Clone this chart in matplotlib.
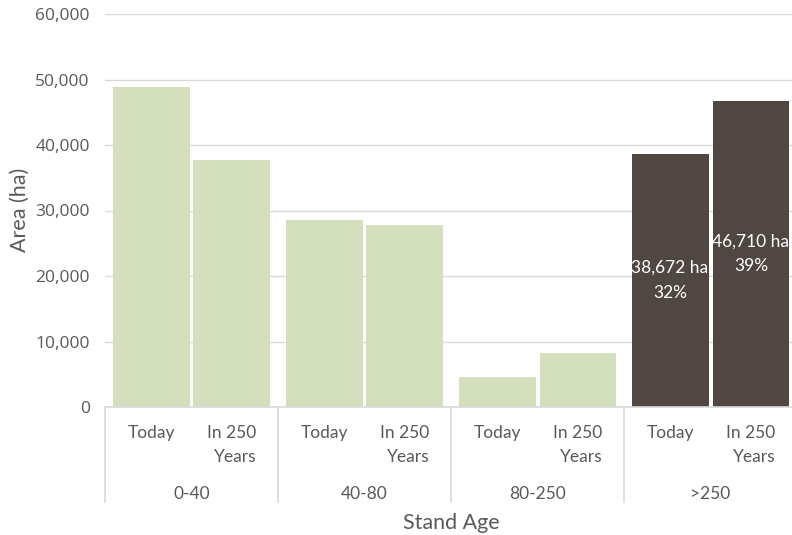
import matplotlib
matplotlib.use("Agg")
import matplotlib.pyplot as plt
import matplotlib.transforms as mtransforms
import numpy as np

# Stand age classes and the two time points
age_classes = ["0-40", "40-80", "80-250", ">250"]
periods = ["Today", "In 250\nYears"]

# Area in hectares per age class
area_today = [48900, 28550, 4650, 38672]
area_future = [37700, 27800, 8250, 46710]

# Share of total area for the old-growth class (>250)
old_growth_share = [32, 39]

green = "#d3dfbd"
dark = "#504742"
grid_gray = "#d9d9d9"
text_gray = "#595959"

fig = plt.figure(figsize=(7.92, 5.35), dpi=100)
ax = fig.add_axes([105 / 792, 128 / 535, 687 / 792, 393 / 535])

n = len(age_classes)
centers = np.arange(n)
offset = 0.234
width = 0.445

colors = [green] * (n - 1) + [dark]
bars_today = ax.bar(centers - offset, area_today, width=width, color=colors, zorder=3)
bars_future = ax.bar(centers + offset, area_future, width=width, color=colors, zorder=3)

ax.set_xlim(-0.5, 3.471)
ax.set_ylim(0, 60000)
ax.set_yticks(np.arange(0, 60001, 10000))
ax.yaxis.set_major_formatter(matplotlib.ticker.FuncFormatter(lambda v, p: f"{int(v):,}"))
ax.tick_params(axis="y", length=0, pad=11, labelsize=12.5, labelcolor=text_gray)
for lab in ax.get_yticklabels():
    lab.set_fontfamily("Open Sans")
ax.set_xticks([])
ax.grid(axis="y", color=grid_gray, linewidth=1, zorder=0)
for s in ax.spines.values():
    s.set_visible(False)
ax.axhline(0, color=grid_gray, linewidth=1.2, zorder=4, clip_on=False)

fig.text(20 / 792, 1 - 210 / 535, "Area (ha)", rotation=90, ha="center", va="center",
         fontsize=15.5, color=text_gray, family="Lato")

# Value labels on the old-growth bars
last = n - 1
for bar, share in zip([bars_today[last], bars_future[last]], old_growth_share):
    h = bar.get_height()
    ax.text(bar.get_x() + bar.get_width() / 2, h / 2, f"{int(h):,} ha\n{share}%",
            ha="center", va="center", color="white", fontsize=12.5, family="Lato",
            linespacing=1.65, zorder=5)

# Two-level category axis drawn below the plot
trans = mtransforms.blended_transform_factory(ax.transData, ax.transAxes)
for g in range(n):
    for k, lab in enumerate(periods):
        x = g - offset if k == 0 else g + offset
        ax.text(x, -0.046, lab, transform=trans, ha="center", va="top",
                multialignment="right", fontsize=12.5, color=text_gray, family="Lato",
                linespacing=1.6, clip_on=False)
    ax.text(g, -0.221, age_classes[g], transform=trans, ha="center", va="center",
            fontsize=12.5, color=text_gray, family="Lato", clip_on=False)
    ax.plot([g - 0.5, g - 0.5], [0, -0.242], transform=trans, color=grid_gray,
            linewidth=1.2, clip_on=False)

ax.text(0.5 * (-0.5 + 3.5), -0.296, "Stand Age", transform=trans, ha="center",
        va="center", fontsize=15.5, color=text_gray, family="Lato", clip_on=False)

fig.savefig("out.png", dpi=100)
